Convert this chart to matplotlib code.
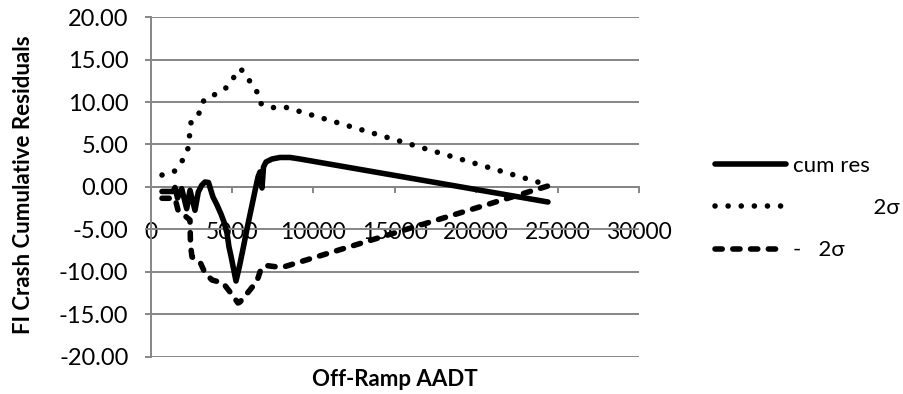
import matplotlib
matplotlib.use("Agg")
import matplotlib.pyplot as plt
from matplotlib.lines import Line2D

plt.rcParams['font.family'] = ['Lato', 'DejaVu Sans']

# ---- data ----
cum_res_x = [694, 1370, 1493, 1646, 1904, 2211, 2414, 2721, 2924, 3133, 3336, 3551,
             3827, 4073, 4319, 4504, 4687, 4810, 4933, 5056, 5240,
             5455, 5670, 5916, 6162, 6407, 6592, 6714, 6838, 6930, 7084,
             7453, 7944, 8559, 9173, 24406]
cum_res_y = [-0.54, -0.54, -0.07, -1.31, -0.21, -2.57, -0.40, -2.76, -0.60, 0.19, 0.58, 0.52,
             -1.19, -2.13, -3.20, -4.14, -5.44, -7.09, -8.15, -9.33, -11.10,
             -9.34, -7.33, -4.95, -2.71, -0.48, 1.17, 1.76, -0.13, 2.35, 2.94,
             3.29, 3.47, 3.47, 3.29, -1.78]

plus2s_x = [694, 1490, 1966, 2310, 2396, 2494, 3029, 3274, 3968, 4644, 5074, 5529,
            6039, 6512, 6733, 7372, 8232, 24406]
plus2s_y = [1.40, 1.88, 3.17, 4.62, 6.24, 7.89, 8.80, 10.28, 10.92, 11.70, 12.84, 13.94,
            12.60, 11.27, 9.86, 9.34, 9.42, 0.22]

minus2s_x = [694, 1493, 1677, 2414, 2445, 2537, 3029, 3336, 3766, 4442, 4872, 5363, 5487,
             6100, 6530, 6776, 7084, 7820, 8250, 24406]
minus2s_y = [-1.34, -1.34, -2.72, -3.91, -6.85, -8.26, -8.85, -10.15, -10.98, -11.33, -12.39,
             -13.69, -13.57, -12.15, -11.10, -9.68, -9.27, -9.45, -9.39, 0.11]

labels = ["cum res", "              2\u03c3", "-   2\u03c3"]
x_ticks = [0, 5000, 10000, 15000, 20000, 25000, 30000]
y_ticks = [-20, -15, -10, -5, 0, 5, 10, 15, 20]

# ---- figure ----
W, H = 904, 394
fig = plt.figure(figsize=(W / 100, H / 100), dpi=100)
L, R, T, B = 150.7, 639.0, 17.3, 356.5
ax = fig.add_axes([L / W, 1 - B / H, (R - L) / W, (B - T) / H])

grey = '#868686'
lw = 4.0
solid_kw = dict(color='black', lw=lw, solid_joinstyle='round', solid_capstyle='round')
dot_kw = dict(color='black', lw=lw, linestyle=(0, (0.01, 2.35)), dash_capstyle='round')
dash_kw = dict(color='black', lw=lw, linestyle=(0, (1.3, 1.9)), dash_capstyle='round',
               dash_joinstyle='round')

ax.plot(plus2s_x, plus2s_y, **dot_kw, zorder=3)
ax.plot(minus2s_x, minus2s_y, **dash_kw, zorder=3)
ax.plot(cum_res_x, cum_res_y, **solid_kw, zorder=4)

ax.set_xlim(0, 30000)
ax.set_ylim(-20, 20)
ax.set_xticks(x_ticks)
ax.set_xticklabels([str(v) for v in x_ticks])
ax.set_yticks(y_ticks)
ax.set_yticklabels([f"{v:.2f}" for v in y_ticks])

ax.grid(axis='y', color=grey, lw=1.4, zorder=0)
ax.set_axisbelow(True)
for s in ['top', 'right']:
    ax.spines[s].set_visible(False)
ax.spines['bottom'].set_position(('data', 0))
ax.spines['bottom'].set_color(grey)
ax.spines['bottom'].set_linewidth(1.4)
ax.spines['left'].set_color(grey)
ax.spines['left'].set_linewidth(1.4)

ax.tick_params(axis='x', direction='out', length=4.5, width=1.4, color=grey,
               labelsize=16.5, pad=20.5)
ax.tick_params(axis='y', direction='out', length=4, width=1.4, color=grey,
               labelsize=17, pad=12)

ax.set_xlabel("Off-Ramp AADT", fontsize=16, fontweight='bold')
ax.xaxis.set_label_coords(0.5, (B - 380) / (B - T))
ax.xaxis.label.set_va('center')
ax.set_ylabel("FI Crash Cumulative Residuals", fontsize=16, fontweight='bold')
ax.yaxis.set_label_coords((24 - L) / (R - L), 0.5 + (187 - 184.5) / (B - T))
ax.yaxis.label.set_va('center')

handles = [Line2D([], [], **solid_kw), Line2D([], [], **dot_kw), Line2D([], [], **dash_kw)]
fig.legend(handles, labels, loc='upper left', bbox_to_anchor=(715 / W, 1 - 156 / H),
           frameon=False, fontsize=16, handlelength=3.2, handletextpad=0.3,
           labelspacing=1.0, borderpad=0, borderaxespad=0)

fig.savefig("out.png", dpi=100)
